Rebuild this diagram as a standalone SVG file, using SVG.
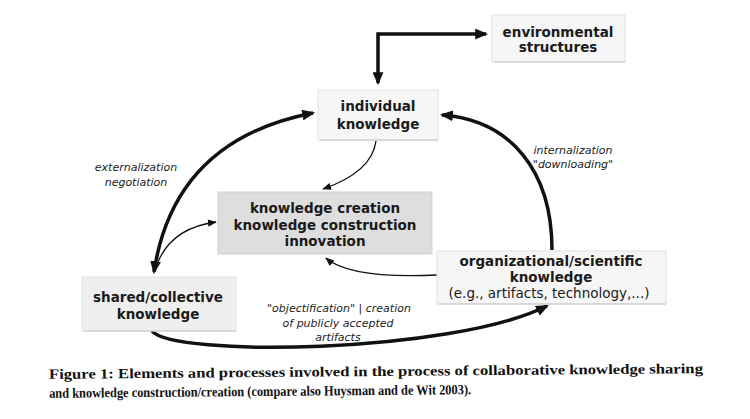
<svg xmlns="http://www.w3.org/2000/svg" width="750" height="419" viewBox="0 0 750 419">
<defs>
<style>
.box{fill:#f6f6f6;stroke:#e2e2e2;stroke-width:1}
.kc{fill:#dedede;stroke:#d0d0d0;stroke-width:1}
.edge{stroke:#c4c4c4;stroke-width:1.2}
.lbl{font-family:"DejaVu Sans",Verdana,sans-serif;font-size:13.5px;font-weight:bold;fill:#1a1a1a;text-anchor:middle}
.reg{font-family:"DejaVu Sans",Verdana,sans-serif;font-size:13.5px;fill:#1a1a1a;text-anchor:middle}
.it{font-family:"DejaVu Sans",Verdana,sans-serif;font-size:11px;font-style:italic;fill:#222;text-anchor:middle}
.cap{font-family:"Liberation Serif","Times New Roman",serif;font-size:14px;font-weight:bold;fill:#111}
.thick{fill:none;stroke:#111;stroke-width:3.5}
.thin{fill:none;stroke:#111;stroke-width:1.3}
</style>
<marker id="ah" viewBox="0 0 12 10" refX="10" refY="5" markerWidth="13" markerHeight="11" markerUnits="userSpaceOnUse" orient="auto-start-reverse">
<path d="M0,0 L12,5 L0,10 z" fill="#111"/>
</marker>
<marker id="as" viewBox="0 0 10 8" refX="9" refY="4" markerWidth="9" markerHeight="8" markerUnits="userSpaceOnUse" orient="auto-start-reverse">
<path d="M0,0 L10,4 L0,8 z" fill="#111"/>
</marker>
</defs>
<rect width="750" height="419" fill="#fff"/>

<g id="connectors">
<path class="thick" d="M378,83 L378,34 L486,34" marker-start="url(#ah)" marker-end="url(#ah)"/>
<path class="thick" d="M154,272 Q174,140 313,113" marker-start="url(#ah)" marker-end="url(#ah)"/>
<path class="thick" d="M552,250 C552,170 510,120 442,115" marker-end="url(#ah)"/>
<path class="thick" d="M152,331 C172,357 450,354 547,306" marker-end="url(#ah)"/>
<path class="thin" d="M158,262 Q172,228 216,222" marker-end="url(#as)"/>
<path class="thin" d="M376,141 Q372,172 323,189" marker-end="url(#as)"/>
<path class="thin" d="M437,275 Q350,279 326,258" marker-end="url(#as)"/>
</g>

<g id="environmental-structures">
<rect class="box" x="492" y="15" width="133" height="47"/>
<line class="edge" x1="494" y1="62" x2="625" y2="62"/>
<text class="lbl" x="558" y="37">environmental</text>
<text class="lbl" x="558" y="52">structures</text>
</g>

<g id="individual-knowledge">
<rect class="box" x="318" y="90" width="120" height="50"/>
<line class="edge" x1="320" y1="140" x2="438" y2="140"/>
<text class="lbl" x="378" y="111">individual</text>
<text class="lbl" x="378" y="129">knowledge</text>
</g>

<g id="knowledge-creation">
<rect class="kc" x="218" y="192" width="214" height="62"/>
<text class="lbl" x="325" y="213">knowledge creation</text>
<text class="lbl" x="325" y="230">knowledge construction</text>
<text class="lbl" x="325" y="246">innovation</text>
</g>

<g id="shared-collective-knowledge">
<rect class="box" x="82" y="277" width="154" height="54" style="fill:#efefef"/>
<line class="edge" x1="84" y1="331" x2="236" y2="331"/>
<text class="lbl" x="158" y="302">shared/collective</text>
<text class="lbl" x="158" y="319">knowledge</text>
</g>

<g id="organizational-knowledge">
<rect class="box" x="437" y="251" width="229" height="53"/>
<line class="edge" x1="439" y1="304" x2="666" y2="304"/>
<text class="lbl" x="551" y="266">organizational/scientific</text>
<text class="lbl" x="551" y="282">knowledge</text>
<text class="reg" x="549" y="298">(e.g., artifacts, technology,...)</text>
</g>

<g id="labels">
<text class="it" x="136" y="171">externalization</text>
<text class="it" x="136" y="186">negotiation</text>
<text class="it" x="573" y="154">internalization</text>
<text class="it" x="573" y="168">"downloading"</text>
<text class="it" x="339" y="312">"objectification" | creation</text>
<text class="it" x="338" y="327">of publicly accepted</text>
<text class="it" x="338" y="341">artifacts</text>
</g>

<g id="caption" transform="rotate(-0.5 375 380)">
<text class="cap" x="49" y="376" textLength="654" lengthAdjust="spacingAndGlyphs">Figure 1: Elements and processes involved in the process of collaborative knowledge sharing</text>
<text class="cap" x="49" y="395" textLength="422" lengthAdjust="spacingAndGlyphs">and knowledge construction/creation (compare also Huysman and de Wit 2003).</text>
</g>
</svg>
